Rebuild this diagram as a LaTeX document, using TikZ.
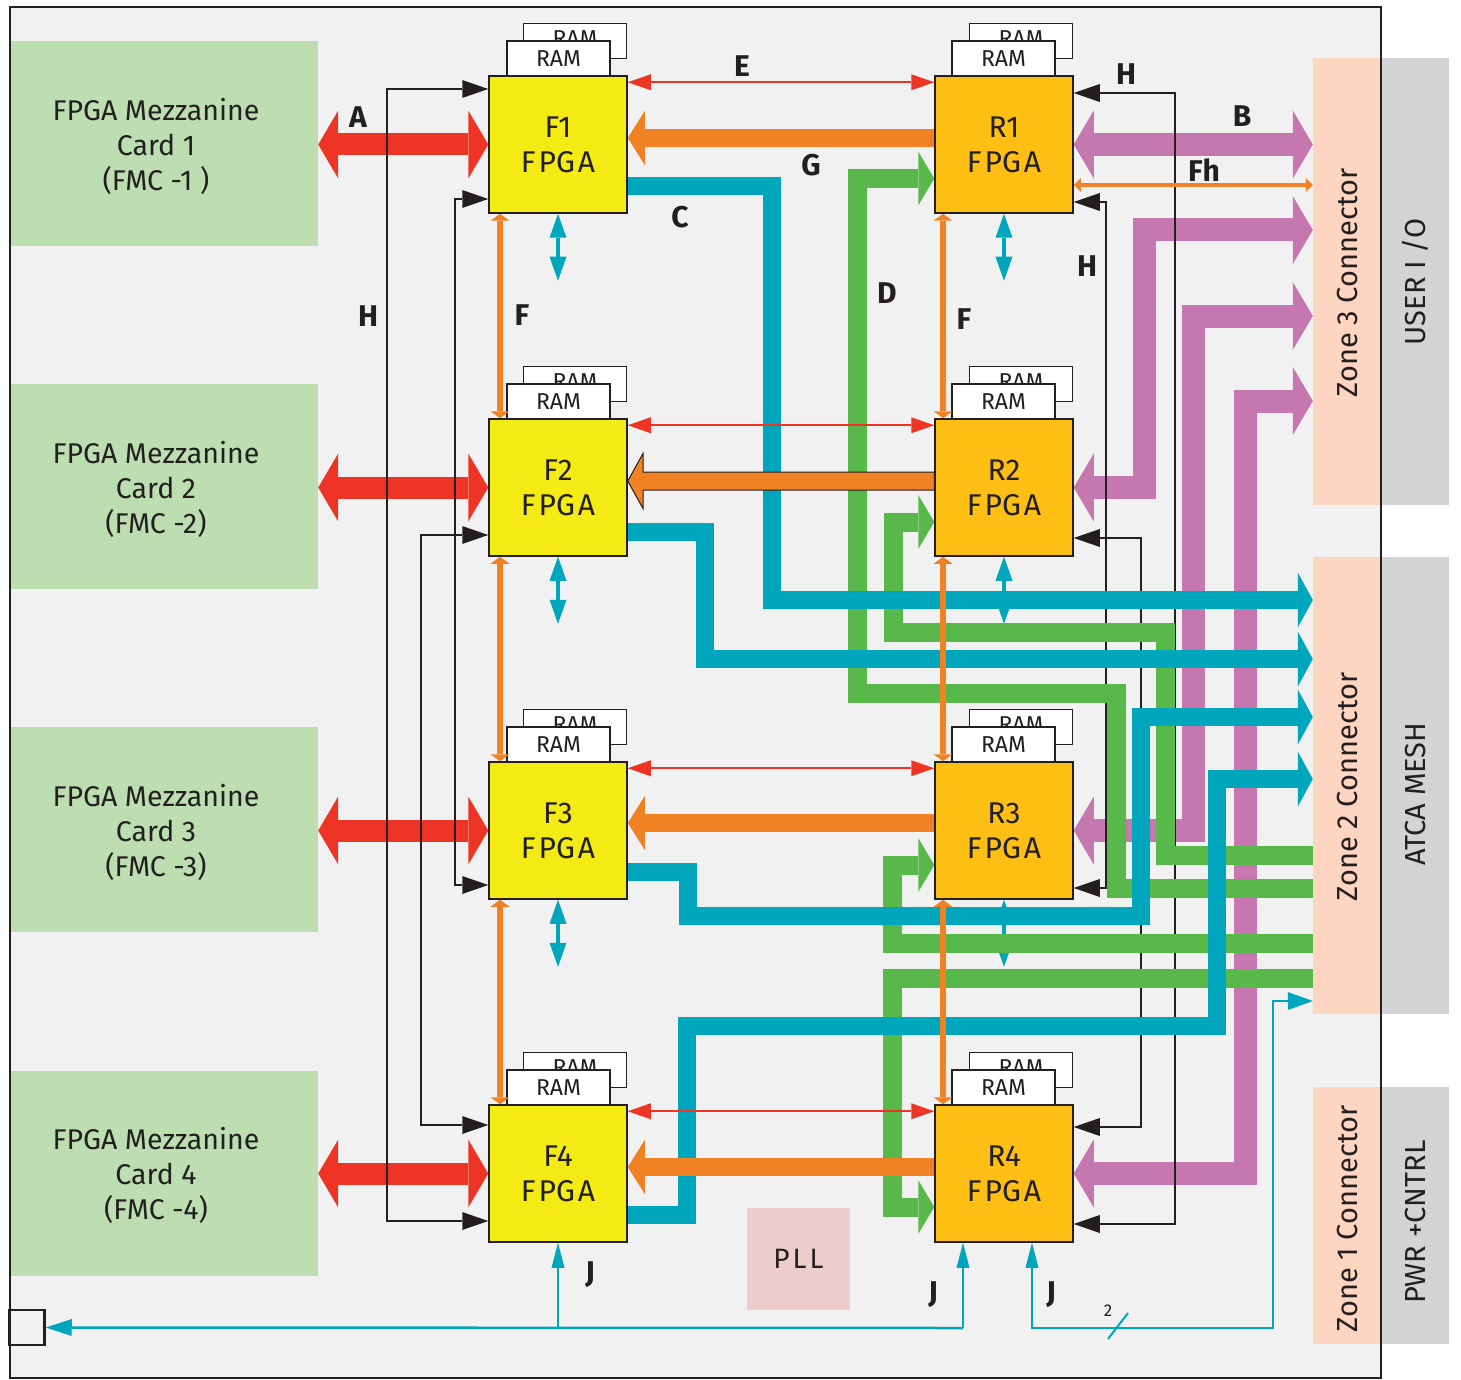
\documentclass[tikz,border=0pt]{standalone}
\usepackage{fontspec}
\setmainfont{Fira Sans}
\usetikzlibrary{arrows.meta}
\definecolor{cBg}{HTML}{F1F1F1}
\definecolor{cBlk}{HTML}{231F20}
\definecolor{cCard}{HTML}{BDDEB0}
\definecolor{cSal}{HTML}{FDD5C1}
\definecolor{cGray}{HTML}{D2D3D5}
\definecolor{cYel}{HTML}{F5EB14}
\definecolor{cOra}{HTML}{FDBF13}
\definecolor{cPLL}{HTML}{EDCDCB}
\definecolor{cRed}{HTML}{EE3424}
\definecolor{cOrg}{HTML}{F08223}
\definecolor{cTeal}{HTML}{00A6BB}
\definecolor{cGrn}{HTML}{58B84A}
\definecolor{cPur}{HTML}{C677B0}
\tikzset{
 fpga/.style={draw=cBlk, line width=1.5pt, minimum width=138pt, minimum height=137pt, inner sep=0pt, align=center, font=\fontsize{30}{35}\selectfont, text=cBlk},
 fbox/.style={fpga, fill=cYel},
 rbox/.style={fpga, fill=cOra},
 ram/.style={draw=cBlk, line width=1.5pt, fill=white, minimum width=103pt, minimum height=35pt, inner sep=0pt, font=\fontsize{23}{23}\selectfont, text=cBlk},
 card/.style={fill=cCard, minimum width=308pt, minimum height=205pt, inner sep=0pt},
 cardtext/.style={align=center, font=\fontsize{28.5}{35}\selectfont, text=cBlk},
 zone/.style={fill=cSal, minimum width=68pt, inner sep=0pt},
 band/.style={fill=cGray, minimum width=68pt, inner sep=0pt},
 vtext/.style={rotate=90, font=\fontsize{29}{29}\selectfont, text=cBlk},
 lab/.style={font=\bfseries\fontsize{30}{30}\selectfont, text=cBlk, inner sep=0pt},
 bigred/.style={draw=cRed, line width=22pt, arrows={Triangle[width=68pt,length=20pt,line width=0pt]-Triangle[width=68pt,length=20pt,line width=0pt]}},
 bigpur/.style={draw=cPur, line width=23pt, arrows={Triangle[width=68pt,length=20pt,line width=0pt]-Triangle[width=68pt,length=20pt,line width=0pt]}},
 biggrn/.style={draw=cGrn, line width=19pt, arrows={-Triangle[width=54pt,length=16pt,line width=0pt]}},
 bigteal/.style={draw=cTeal, line width=18pt, arrows={-Triangle[width=55pt,length=15pt,line width=0pt]}},
 bigorg/.style={draw=cOrg, line width=18pt, arrows={-Triangle[width=54pt,length=17pt,line width=0pt]}},
 hline/.style={draw=cBlk, line width=2.5pt, arrows={Triangle[width=18pt,length=26pt,line width=0pt]-Triangle[width=18pt,length=26pt,line width=0pt]}},
 ered/.style={draw=cRed, line width=2pt, arrows={Triangle[width=16pt,length=23pt,line width=0pt]-Triangle[width=16pt,length=23pt,line width=0pt]}},
 forg/.style={draw=cOrg, line width=6pt, arrows={Triangle[width=19pt,length=7pt,line width=0pt]-Triangle[width=19pt,length=7pt,line width=0pt]}},
 fhorg/.style={draw=cOrg, line width=4pt, arrows={Triangle[width=14pt,length=7pt,line width=0pt]-Triangle[width=14pt,length=7pt,line width=0pt]}},
 smteal/.style={draw=cTeal, line width=4pt, arrows={Triangle[width=17pt,length=24pt,line width=0pt]-Triangle[width=17pt,length=24pt,line width=0pt]}},
 jline/.style={draw=cTeal, line width=2.5pt},
 jtip/.style={arrows={-Triangle[width=13pt,length=25pt,line width=0pt]}},
 jtips/.style={arrows={Triangle[width=13pt,length=25pt,line width=0pt]-Triangle[width=18pt,length=25pt,line width=0pt]}},
}
\newcommand{\bram}{\raisebox{4pt}{RAM}}
\begin{document}
\begin{tikzpicture}[x=1pt,y=-1pt,line join=miter]
\useasboundingbox (0,0) rectangle (1461,1380);
\fill[cBg] (10,7) rectangle (1381,1378);
% connector zones
\node[band, minimum height=447pt] (g3) at (1415,281.5) {};
\node[band, minimum height=457pt] (g2) at (1415,785.5) {};
\node[band, minimum height=257pt] (g1) at (1415,1215.5) {};
\node[zone, minimum height=447pt] (Z3) at (1347,281.5) {};
\node[zone, minimum height=457pt] (Z2) at (1347,785.5) {};
\node[zone, minimum height=257pt] (Z1) at (1347,1215.5) {};
\node[vtext] (tz3) at (1347,283) {Zone 3 Connector};
\node[vtext] (tz2) at (1347,787) {Zone 2 Connector};
\node[vtext] (tz1) at (1347,1219) {Zone 1 Connector};
\node[vtext] (tu) at (1415,282) {USER I /O};
\node[vtext] (ta) at (1415,794) {ATCA MESH};
\node[vtext] (tp) at (1415,1222) {PWR +CNTRL};
% mezzanine cards
\node[card] (C1) at (164,143.5) {};
\node[card] (C2) at (164,486.5) {};
\node[card] (C3) at (164,829.5) {};
\node[card] (C4) at (164,1173.5) {};
\node[cardtext] (T1) at (156,146) {FPGA Mezzanine\\Card 1\\(FMC -1 )};
\node[cardtext] (T2) at (156,489) {FPGA Mezzanine\\Card 2\\(FMC -2)};
\node[cardtext] (T3) at (156,832) {FPGA Mezzanine\\Card 3\\(FMC -3)};
\node[cardtext] (T4) at (156,1175) {FPGA Mezzanine\\Card 4\\(FMC -4)};
% PLL and square
\node[fill=cPLL, minimum width=103pt, minimum height=102pt, inner sep=0pt, font=\fontsize{28}{28}\selectfont, text=cBlk] (PLL) at (798.5,1259) {P\kern3pt L\kern3pt L};
\node[draw=cBlk, line width=2.5pt, minimum size=35pt, inner sep=0pt] (sq) at (27,1327.5) {};
% FPGA boxes
\node[fbox] (F1) at (558,144.5) {F1\\F\kern3pt PG\kern3pt A};
\node[fbox] (F2) at (558,487.5) {F2\\F\kern3pt PG\kern3pt A};
\node[fbox] (F3) at (558,830.5) {F3\\F\kern3pt PG\kern3pt A};
\node[fbox] (F4) at (558,1173.5) {F4\\F\kern3pt PG\kern3pt A};
\node[rbox] (R1) at (1004,144.5) {R1\\F\kern3pt PG\kern3pt A};
\node[rbox] (R2) at (1004,487.5) {R2\\F\kern3pt PG\kern3pt A};
\node[rbox] (R3) at (1004,830.5) {R3\\F\kern3pt PG\kern3pt A};
\node[rbox] (R4) at (1004,1173.5) {R4\\F\kern3pt PG\kern3pt A};
% RAM
\node[ram] (F1b) at (575,41) {\bram};   \node[ram] (F1a) at (558.5,58.5) {RAM};
\node[ram] (F2b) at (575,384) {\bram};  \node[ram] (F2a) at (558.5,401.5) {RAM};
\node[ram] (F3b) at (575,727) {\bram};  \node[ram] (F3a) at (558.5,744.5) {RAM};
\node[ram] (F4b) at (575,1070) {\bram}; \node[ram] (F4a) at (558.5,1087.5) {RAM};
\node[ram] (R1b) at (1021,41) {\bram};   \node[ram] (R1a) at (1003.5,58.5) {RAM};
\node[ram] (R2b) at (1021,384) {\bram};  \node[ram] (R2a) at (1003.5,401.5) {RAM};
\node[ram] (R3b) at (1021,727) {\bram};  \node[ram] (R3a) at (1003.5,744.5) {RAM};
\node[ram] (R4b) at (1021,1070) {\bram}; \node[ram] (R4a) at (1003.5,1087.5) {RAM};
% small teal double arrows
\draw[smteal] (F1.south) -- ++(0,67);
\draw[smteal] (F2.south) -- ++(0,67);
\draw[smteal] (F3.south) -- ++(0,67);
\draw[smteal] (R1.south) -- ++(0,67);
\draw[smteal] (R2.south) -- ++(0,67);
\draw[smteal] (R3.south) -- ++(0,67);
% A
\draw[bigred] (C1.east |- F1.west) -- (F1.west);
\draw[bigred] (C2.east |- F2.west) -- (F2.west);
\draw[bigred] (C3.east |- F3.west) -- (F3.west);
\draw[bigred] (C4.east |- F4.west) -- (F4.west);
% purple
\draw[bigpur] (R1.east |- 0,144.5) -- (Z3.west |- 0,144.5);
\draw[bigpur] (R2.east) -| (1144,230) -- (Z3.west |- 0,230);
\draw[bigpur] (R3.east) -| (1193,316) -- (Z3.west |- 0,316);
\draw[bigpur] (R4.east) -| (1245,401) -- (Z3.west |- 0,401);
% H
\draw[hline] (F1.west |- 0,89) -| (387,1221) -- (F4.west |- 0,1221);
\draw[hline] (F1.west |- 0,199) -| (455,885) -- (F3.west |- 0,885);
\draw[hline] (F2.west |- 0,535) -| (421,1125) -- (F4.west |- 0,1125);
\draw[hline] (R1.east |- 0,93) -| (1175,1224) -- (R4.east |- 0,1224);
\draw[hline] (R1.east |- 0,202) -| (1106,888) -- (R3.east |- 0,888);
\draw[hline] (R2.east |- 0,538) -| (1141,1127) -- (R4.east |- 0,1127);
% green D
\draw[biggrn] (Z2.west |- 0,888) -| (1116,693) -| (857,178.5) -- (R1.west |- 0,178.5);
\draw[biggrn] (Z2.west |- 0,855) -| (1165,632) -| (893,522) -- (R2.west |- 0,522);
\draw[biggrn] (Z2.west |- 0,943) -| (892,865) -- (R3.west |- 0,865);
\draw[biggrn] (Z2.west |- 0,978) -| (892,1207) -- (R4.west |- 0,1207);
% teal C
\draw[bigteal] (F1.east |- 0,186) -| (772,600) -- (Z2.west |- 0,600);
\draw[bigteal] (F2.east |- 0,532) -| (705,659) -- (Z2.west |- 0,659);
\draw[bigteal] (F3.east |- 0,872) -| (688,916) -| (1141,717) -- (Z2.west |- 0,717);
\draw[bigteal] (F4.east |- 0,1215) -| (687,1026) -| (1217,779) -- (Z2.west |- 0,779);
% orange G
\draw[bigorg] (R1.west |- 0,138) -- (F1.east |- 0,138);
\filldraw[fill=cOrg, draw=cBlk, line width=1pt] (F2.east |- 0,481) -- (643,453.5) -- (643,472) -- (R2.west |- 0,472) -- (R2.west |- 0,490) -- (643,490) -- (643,508.5) -- cycle;
\draw[bigorg] (R3.west |- 0,823) -- (F3.east |- 0,823);
\draw[bigorg] (R4.west |- 0,1167) -- (F4.east |- 0,1167);
% red E
\draw[ered] ([yshift=-7pt]F1.north east) -- ([yshift=-7pt]R1.north west);
\draw[ered] ([yshift=-7pt]F2.north east) -- ([yshift=-7pt]R2.north west);
\draw[ered] ([yshift=-7pt]F3.north east) -- ([yshift=-7pt]R3.north west);
\draw[ered] ([yshift=-7pt]F4.north east) -- ([yshift=-7pt]R4.north west);
% orange F
\draw[forg] (F1.south -| 500,0) -- (F2.north -| 500,0);
\draw[forg] (F2.south -| 500,0) -- (F3.north -| 500,0);
\draw[forg] (F3.south -| 500,0) -- (F4.north -| 500,0);
\draw[forg] (R1.south -| 943,0) -- (R2.north -| 943,0);
\draw[forg] (R2.south -| 943,0) -- (R3.north -| 943,0);
\draw[forg] (R3.south -| 943,0) -- (R4.north -| 943,0);
% Fh
\draw[fhorg] (R1.east |- 0,185) -- (Z3.west |- 0,185);
% J
\draw[jline,arrows={-Triangle[width=17pt,length=26pt,line width=0pt]}] (963,1328) -- (sq.east);
\draw[jline,jtip] (F4.south |- 0,1328) -- (F4.south);
\draw[jline,jtip] (963,1328) -- (R4.south -| 963,0);
\draw[jline,jtips] (R4.south -| 1032,0) |- (1273,1328) |- (Z2.west |- 0,1001);
\draw[cTeal, line width=2pt] (1108,1339) -- (1128,1313);
\node[font=\fontsize{17}{17}\selectfont, text=cBlk, inner sep=0pt] (two) at (1108,1311) {2};
% labels
\node[lab] (lA) at (358,117) {A};
\node[lab] (lE) at (742,66) {E};
\node[lab] (lG) at (811,165) {G};
\node[lab] (lC) at (680,217) {C};
\node[lab] (lD) at (887,293) {D};
\node[lab] (lF1) at (522,315) {F};
\node[lab] (lF2) at (964,319) {F};
\node[lab] (lB) at (1242,116) {B};
\node[lab] (lFh) at (1204,170) {Fh};
\node[lab] (lH1) at (368,316) {H};
\node[lab] (lH2) at (1126,74) {H};
\node[lab] (lH3) at (1087,266) {H};
\node[lab] (lJ1) at (590,1275) {J};
\node[lab] (lJ2) at (933,1295) {J};
\node[lab] (lJ3) at (1051,1295) {J};
% frame
\draw[cBlk, line width=2.5pt] (10,7) rectangle (1381,1378);
\end{tikzpicture}
\end{document}
